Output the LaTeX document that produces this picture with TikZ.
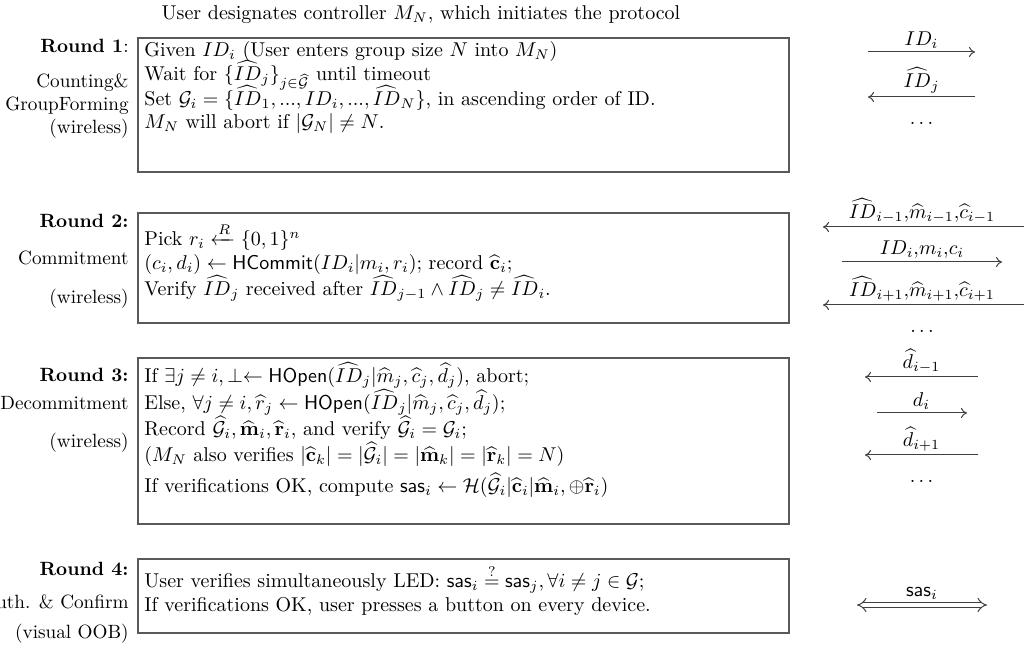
\documentclass[tikz,border=0pt]{standalone}
\usepackage{amsmath,amssymb}
\usetikzlibrary{arrows.meta}
\begin{document}
\begin{tikzpicture}[x=0.5pt,y=-0.5pt,
  box/.style={draw=black!65, line width=0.8pt, inner sep=0pt},
  txt/.style={anchor=base west, inner sep=0pt},
  lab/.style={anchor=base east, inner sep=0pt, font=\fontsize{9.6}{11}\selectfont},
  msg/.style={draw=black!75, line width=0.5pt, -{To[length=3pt,width=5pt]}},
  dbl/.style={draw=black!75, line width=0.5pt, double, double distance=2pt, {Implies}-{Implies}},
  mlab/.style={anchor=south, inner sep=1.5pt}]
\useasboundingbox (0,0) rectangle (1024,652);

% title
\node[anchor=base] (title) at (421,20) {User designates controller $M_N$, which initiates the protocol};

% boxes
\node[box, minimum width=325.5pt, minimum height=67pt] (b1) at (463.5,105) {};
\node[box, minimum width=325.5pt, minimum height=55pt] (b2) at (463.5,268) {};
\node[box, minimum width=325.5pt, minimum height=83pt] (b3) at (463.5,441) {};
\node[box, minimum width=325.5pt, minimum height=37pt] (b4) at (463.5,596) {};

% box 1 text
\node[txt] (t1a) at (144,57) {Given $ID_i$ (User enters group size $N$ into $M_N$)};
\node[txt] (t1b) at (144,81) {Wait for $\{\widehat{ID}_j\}_{j\in\widehat{\mathcal{G}}}$ until timeout};
\node[txt] (t1c) at (144,106) {Set $\mathcal{G}_i=\{\widehat{ID}_1,...,ID_i,...,\widehat{ID}_N\}$, in ascending order of ID.};
\node[txt] (t1d) at (144,129) {$M_N$ will abort if $|\mathcal{G}_N|\neq N$.};

% box 2 text
\node[txt] (t2a) at (144,246) {Pick $r_i \xleftarrow{R} \{0,1\}^n$};
\node[txt] (t2b) at (144,270) {$(c_i,d_i)\leftarrow \mathsf{HCommit}(ID_i|m_i,r_i)$; record $\widehat{\mathbf{c}}_i$;};
\node[txt] (t2c) at (144,296) {Verify $\widehat{ID}_j$ received after $\widehat{ID}_{j-1}\wedge \widehat{ID}_j\neq\widehat{ID}_i$.};

% box 3 text
\node[txt] (t3a) at (144,383) {If $\exists j\neq i, \perp\leftarrow \mathsf{HOpen}(\widehat{ID}_j|\widehat{m}_j,\widehat{c}_j,\widehat{d}_j)$, abort;};
\node[txt] (t3b) at (144,410) {Else, $\forall j\neq i, \widehat{r}_j\leftarrow\mathsf{HOpen}(\widehat{ID}_j|\widehat{m}_j,\widehat{c}_j,\widehat{d}_j)$;};
\node[txt] (t3c) at (144,436) {Record $\widehat{\mathcal{G}}_i,\widehat{\mathbf{m}}_i,\widehat{\mathbf{r}}_i$, and verify $\widehat{\mathcal{G}}_i=\mathcal{G}_i$;};
\node[txt] (t3d) at (144,462) {($M_N$ also verifies $|\widehat{\mathbf{c}}_k|=|\widehat{\mathcal{G}}_i|=|\widehat{\mathbf{m}}_k|=|\widehat{\mathbf{r}}_k|=N$)};
\node[txt] (t3e) at (144,493) {If verifications OK, compute $\mathsf{sas}_i\leftarrow\mathcal{H}(\widehat{\mathcal{G}}_i|\widehat{\mathbf{c}}_i|\widehat{\mathbf{m}}_i,\oplus\widehat{\mathbf{r}}_i)$};

% box 4 text
\node[txt] (t4a) at (144,588) {User verifies simultaneously LED: $\mathsf{sas}_i\stackrel{?}{=}\mathsf{sas}_j,\forall i\neq j\in\mathcal{G}$;};
\node[txt] (t4b) at (144,611) {If verifications OK, user presses a button on every device.};

% left labels
\node[lab] (r1a) at (129,53) {\textbf{Round 1}:};
\node[lab] (r1b) at (129,88) {Counting\&};
\node[lab] (r1c) at (129,111) {GroupForming};
\node[lab] (r1d) at (129,134) {(wireless)};

\node[lab] (r2a) at (129,228) {\textbf{Round 2:}};
\node[lab] (r2b) at (129,265) {Commitment};
\node[lab] (r2c) at (129,304) {(wireless)};

\node[lab] (r3a) at (129,382) {\textbf{Round 3:}};
\node[lab] (r3b) at (129,410) {Decommitment};
\node[lab] (r3c) at (129,448) {(wireless)};

\node[lab] (r4a) at (129,575) {\textbf{Round 4:}};
\node[lab] (r4b) at (129,608) {Auth. \& Confirm};
\node[lab] (r4c) at (129,638) {(visual OOB)};

% round 1 messages
\coordinate (m1s) at (868,52);  \coordinate (m1e) at (975,52);
\coordinate (m2s) at (975,97);  \coordinate (m2e) at (868,97);
\draw[msg] (m1s) -- (m1e);
\draw[msg] (m2s) -- (m2e);
\node[mlab] (l1) at (921.5,52) {$ID_i$};
\node[mlab] (l2) at (921.5,97) {$\widehat{ID}_j$};
\node (d1) at (921.5,123) {$\ldots$};

% round 2 messages
\coordinate (m3s) at (1030,227); \coordinate (m3e) at (823,227);
\coordinate (m4s) at (842,262);  \coordinate (m4e) at (1002,262);
\coordinate (m5s) at (1030,305); \coordinate (m5e) at (823,305);
\draw[msg] (m3s) -- (m3e);
\draw[msg] (m4s) -- (m4e);
\draw[msg] (m5s) -- (m5e);
\node[mlab] (l3) at (922,227) {$\widehat{ID}_{i-1}{,}\widehat{m}_{i-1}{,}\widehat{c}_{i-1}$};
\node[mlab] (l4) at (922,262) {$ID_i{,}m_i{,}c_i$};
\node[mlab] (l5) at (922,305) {$\widehat{ID}_{i+1}{,}\widehat{m}_{i+1}{,}\widehat{c}_{i+1}$};
\node (d2) at (922,331) {$\ldots$};

% round 3 messages
\coordinate (m6s) at (978,377); \coordinate (m6e) at (865,377);
\coordinate (m7s) at (877,413); \coordinate (m7e) at (967,413);
\coordinate (m8s) at (978,455); \coordinate (m8e) at (865,455);
\draw[msg] (m6s) -- (m6e);
\draw[msg] (m7s) -- (m7e);
\draw[msg] (m8s) -- (m8e);
\node[mlab] (l6) at (921.5,377) {$\widehat{d}_{i-1}$};
\node[mlab] (l7) at (921.5,413) {$d_i$};
\node[mlab] (l8) at (921.5,455) {$\widehat{d}_{i+1}$};
\node (d3) at (921.5,481) {$\ldots$};

% round 4
\coordinate (m9s) at (857,605); \coordinate (m9e) at (987,605);
\draw[dbl] (m9s) -- (m9e);
\node[mlab, inner sep=2.5pt] (l9) at (922,605) {$\mathsf{sas}_i$};
\end{tikzpicture}
\end{document}
